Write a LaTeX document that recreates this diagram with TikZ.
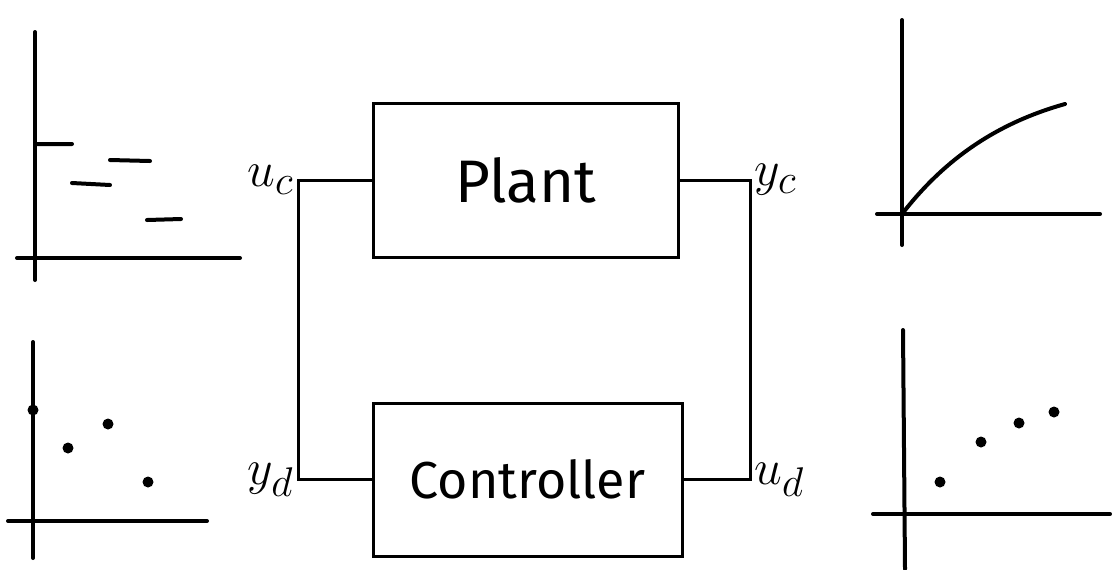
\documentclass[tikz,border=0pt]{standalone}
\usepackage{fontspec}
\setmainfont{Fira Sans}
\usetikzlibrary{positioning}

\begin{document}
\begin{tikzpicture}[
  x=0.5pt,y=-0.5pt,
  block/.style={draw,line width=1.5pt,minimum width=152.5pt,minimum height=77pt,font=\fontsize{30}{36}\selectfont},
  wire/.style={line width=1.5pt},
  axis/.style={line width=2pt,line cap=round},
  sig/.style={font=\fontsize{32}{36}\selectfont,inner sep=2pt},
  dot/.style={circle,fill,inner sep=0pt,minimum size=5.5pt}]
\useasboundingbox (0,0) rectangle (1112,569);
% loop
\node[block] (plant) at (525.5,180) {Plant};
\node[block,minimum width=154.5pt,minimum height=76.5pt,font=\fontsize{26}{32}\selectfont] (ctrl) at (527.5,479.5) {Controller};
\coordinate (lt) at (298,180);
\coordinate (rt) at (750,180);
\draw[wire] (plant.west) -- (lt) |- (ctrl.west);
\draw[wire] (plant.east) -- (rt) |- (ctrl.east);
\node[sig,left=0pt of lt] (uc) {$u_c$};
\node[sig,right=0pt of rt] (yc) {$y_c$};
\node[sig,left=0pt of lt |- ctrl.west] (yd) {$y_d$};
\node[sig,right=0pt of rt |- ctrl.east] (ud) {$u_d$};
% input, continuous
\draw[axis] (35,32) -- (35,280);
\draw[axis] (17,258) -- (240,258);
\draw[axis] (37,144) -- (72,144) (72,183) -- (110,185) (110,160) -- (150,161) (147,220) -- (181,219);
% input, sampled
\draw[axis] (33,342) -- (33,558);
\draw[axis] (8,521) -- (207,521);
\foreach \p in {(33,410),(68,448),(108,424),(148,482)}
  \node[dot] at \p {};
% output, continuous
\draw[axis] (902,20) -- (902,245);
\draw[axis] (877,214) -- (1100,214);
\draw[axis] (902,214) .. controls (940,165) and (990,125) .. (1065,104);
% output, sampled
\draw[axis] (903,330) -- (905,569);
\draw[axis] (873,514) -- (1110,514);
\foreach \p in {(940,482),(981,442),(1019,423),(1054,412)}
  \node[dot] at \p {};
\end{tikzpicture}
\end{document}
